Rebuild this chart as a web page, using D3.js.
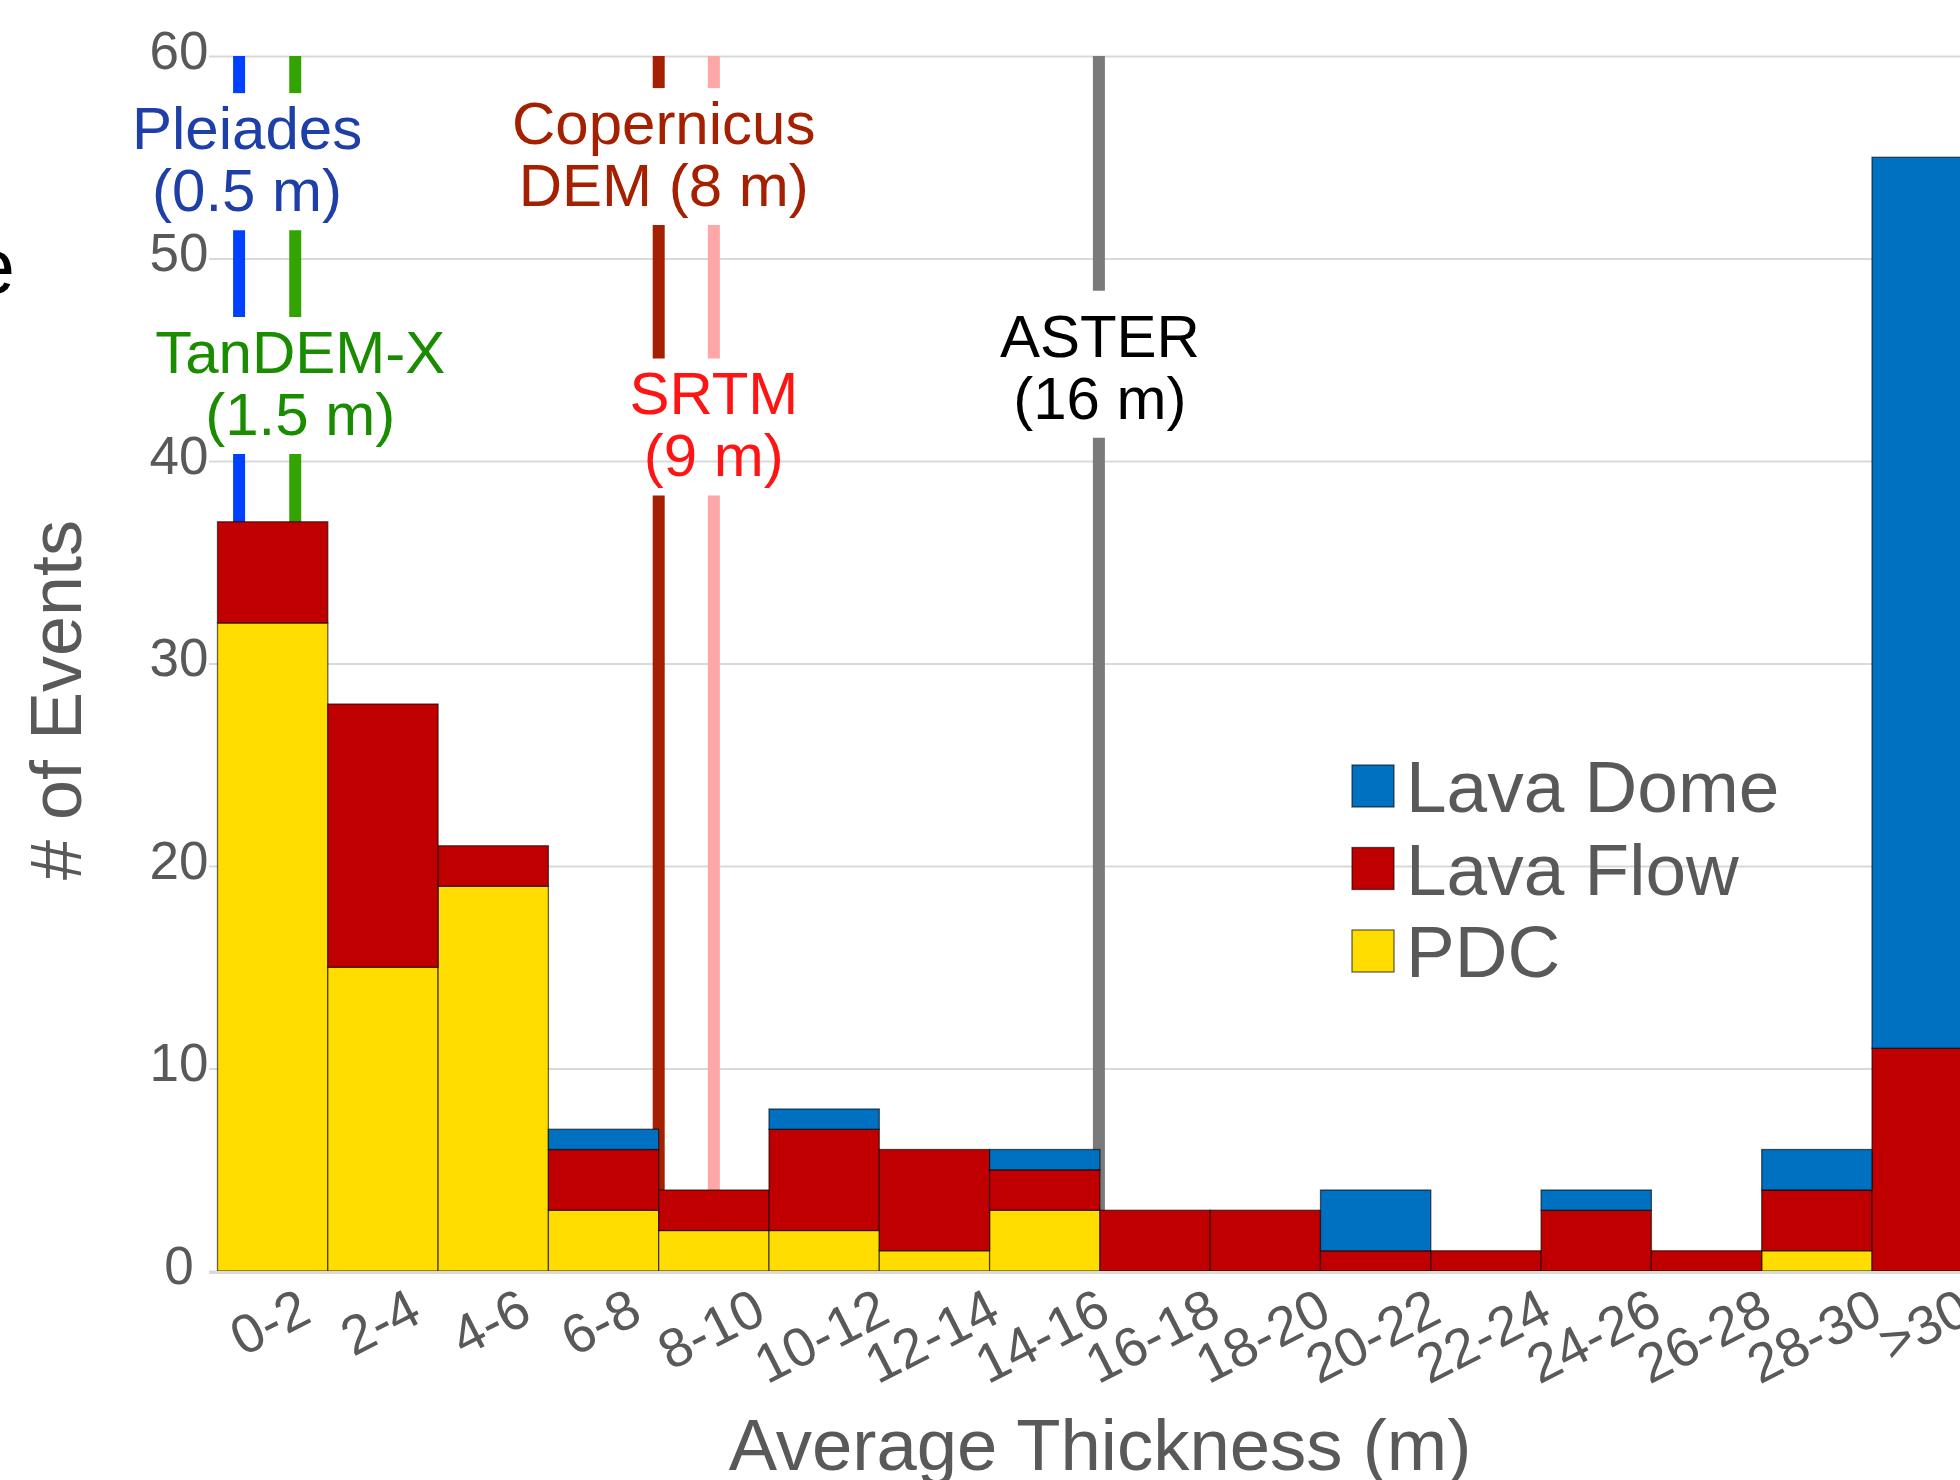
<!DOCTYPE html>
<html lang="en">
<head>
  <meta charset="UTF-8">
  <title>Average Thickness histogram</title>
  <script src="https://d3js.org/d3.v7.min.js"></script>
  <style>
    body { margin: 0; background: #fff; }
    svg { display: block; font-family: "Liberation Sans", Arial, sans-serif; }
  </style>
</head>
<body>
  <div id="chart"></div>

  <script>
    // Thickness bins and event counts per type
    const categories = ["0-2", "2-4", "4-6", "6-8", "8-10", "10-12", "12-14", "14-16",
                        "16-18", "18-20", "20-22", "22-24", "24-26", "26-28", "28-30", ">30"];
    const pdc      = [32, 15, 19, 3, 2, 2, 1, 3, 0, 0, 0, 0, 0, 0, 1, 0];
    const lavaFlow = [5, 13, 2, 3, 2, 5, 5, 2, 3, 3, 1, 1, 3, 1, 3, 11];
    const lavaDome = [0, 0, 0, 1, 0, 1, 0, 1, 0, 0, 3, 0, 1, 0, 2, 44];
    const yTicks = [0, 10, 20, 30, 40, 50, 60];

    // DEM resolutions (m), drawn on the thickness axis
    const demLines = [["Pleiades", "(0.5 m)"], ["TanDEM-X", "(1.5 m)"], ["Copernicus", "DEM (8 m)"],
                      ["SRTM", "(9 m)"], ["ASTER", "(16 m)"]];
    const demResolution = [0.5, 1.5, 8, 9, 16];

    // look of the DEM annotations (label level is a y value on the count axis)
    const demLook = [
      { line: "#0040ff", text: "#1f3fa8", level: 55.4, dx: 2, lineDx: -6, pad: 2 },
      { line: "#33a300", text: "#1a8c00", level: 44.35, dx: 0, lineDx: -5, pad: 2 },
      { line: "#a52000", text: "#a52000", level: 55.65, dx: 5, lineDx: 0, pad: 2 },
      { line: "#ffa6a6", text: "#ff1414", level: 42.3, dx: 0, lineDx: 0, pad: 2 },
      { line: "#7a7a7a", text: "#000000", level: 45.15, dx: 0, lineDx: -1, pad: 12 }
    ];

    const keys = ["pdc", "lavaFlow", "lavaDome"];
    const names = { pdc: "PDC", lavaFlow: "Lava Flow", lavaDome: "Lava Dome" };
    const colors = { pdc: "#ffdd00", lavaFlow: "#c00000", lavaDome: "#0070c0" };

    const width = 1960, height = 1480;
    const plotLeft = 217.5, binWidth = 110.3;
    const plotRight = plotLeft + binWidth * categories.length;
    const gray = "#595959";

    const svg = d3.select("#chart").append("svg")
      .attr("width", width).attr("height", height);

    const x = d3.scaleBand().domain(categories).range([plotLeft, plotRight]).padding(0);
    const xm = d3.scaleLinear().domain([0, 2 * categories.length]).range([plotLeft, plotRight]);
    const y = d3.scaleLinear().domain([0, 60]).range([1271, 56]);

    // y axis with gridlines
    const gridStart = 209;
    const yAxis = svg.append("g")
      .attr("transform", `translate(${gridStart},0)`)
      .call(d3.axisLeft(y).tickValues(yTicks).tickSize(-(width - gridStart)).tickPadding(0));
    yAxis.select(".domain").remove();
    yAxis.selectAll(".tick line")
      .attr("stroke", "#d9d9d9").attr("stroke-width", 2)
      .attr("x1", 0).attr("x2", width - gridStart);
    yAxis.selectAll(".tick text")
      .attr("x", -30).attr("dy", null).attr("y", 12)
      .attr("text-anchor", "middle")
      .attr("fill", gray).attr("font-size", 53)
      .attr("font-family", "Liberation Sans, Arial, sans-serif");

    // line layer sits under the labels and bars
    const lineG = svg.append("g");

    // DEM labels, their boxes cut the lines
    const demG = svg.append("g");
    const labelBoxes = [];
    demLines.forEach((lines, i) => {
      const t = demG.append("text")
        .attr("text-anchor", "middle")
        .attr("fill", demLook[i].text)
        .attr("font-size", 60);
      lines.forEach((s, j) => {
        t.append("tspan")
          .attr("x", xm(demResolution[i]) + demLook[i].dx)
          .attr("y", y(demLook[i].level) + j * 62)
          .text(s);
      });
      const b = t.node().getBBox();
      b.pad = demLook[i].pad;
      labelBoxes.push(b);
    });

    // vertical resolution lines, broken where labels sit
    demResolution.forEach((m, i) => {
      const px = xm(m) + demLook[i].lineDx;
      const gaps = labelBoxes
        .filter(b => px >= b.x - 4 && px <= b.x + b.width + 4)
        .map(b => [b.y - b.pad, b.y + b.height + 6])
        .sort((a, b) => a[0] - b[0]);
      let top = y(60);
      const segs = [];
      gaps.forEach(g => {
        if (g[0] > top) segs.push([top, g[0]]);
        top = Math.max(top, g[1]);
      });
      segs.push([top, y(0)]);
      lineG.selectAll(null).data(segs).enter().append("line")
        .attr("x1", px).attr("x2", px)
        .attr("y1", d => d[0]).attr("y2", d => d[1])
        .attr("stroke", demLook[i].line).attr("stroke-width", 12);
    });

    // stacked bars
    const table = categories.map((c, i) => ({ cat: c, pdc: pdc[i], lavaFlow: lavaFlow[i], lavaDome: lavaDome[i] }));
    const series = d3.stack().keys(keys)(table);

    svg.append("g").selectAll("g")
      .data(series).enter().append("g")
      .attr("fill", d => colors[d.key])
      .selectAll("rect")
      .data(d => d.filter(s => s[1] - s[0] > 0))
      .enter().append("rect")
      .attr("x", d => x(d.data.cat))
      .attr("width", x.bandwidth())
      .attr("y", d => y(d[1]))
      .attr("height", d => y(d[0]) - y(d[1]))
      .attr("stroke", "rgba(0,0,0,0.6)")
      .attr("stroke-width", 1.3);

    // x axis
    const xAxis = svg.append("g")
      .attr("transform", `translate(0,${y(0)})`)
      .call(d3.axisBottom(x).tickSize(0).tickPadding(0));
    xAxis.select(".domain").attr("stroke", "#d9d9d9").attr("stroke-width", 3)
      .attr("d", `M${gridStart},1.5H${width}`);
    const angle = 27, rad = angle * Math.PI / 180;
    xAxis.selectAll(".tick text")
      .attr("fill", gray).attr("font-size", 55)
      .attr("font-family", "Liberation Sans, Arial, sans-serif")
      .attr("text-anchor", "middle")
      .attr("dy", null).attr("y", 0)
      .attr("dominant-baseline", "central")
      .each(function () {
        const w = this.getComputedTextLength();
        d3.select(this).attr("transform", `translate(-3,${33 + (w / 2) * Math.sin(rad)}) rotate(${-angle})`);
      });

    // axis titles
    svg.append("text")
      .attr("transform", "translate(81,700) rotate(-90)")
      .attr("text-anchor", "middle")
      .attr("fill", gray).attr("font-size", 72)
      .text("# of Events");

    svg.append("text")
      .attr("x", 1100).attr("y", 1470)
      .attr("text-anchor", "middle")
      .attr("fill", gray).attr("font-size", 72.5)
      .text("Average Thickness (m)");

    // leftover letter of a neighbouring panel title
    svg.append("text")
      .attr("x", 15).attr("y", 293)
      .attr("text-anchor", "end")
      .attr("font-size", 78)
      .text("e");

    // legend
    const legend = svg.append("g").attr("transform", "translate(1352,765)");
    ["lavaDome", "lavaFlow", "pdc"].forEach((k, i) => {
      const row = legend.append("g").attr("transform", `translate(0,${i * 82.5})`);
      row.append("rect")
        .attr("width", 42).attr("height", 42)
        .attr("fill", colors[k])
        .attr("stroke", "rgba(0,0,0,0.6)").attr("stroke-width", 1.3);
      row.append("text")
        .attr("x", 54).attr("y", 21 + 0.358 * 73)
        .attr("fill", gray).attr("font-size", 73)
        .text(names[k]);
    });
  </script>
</body>
</html>
